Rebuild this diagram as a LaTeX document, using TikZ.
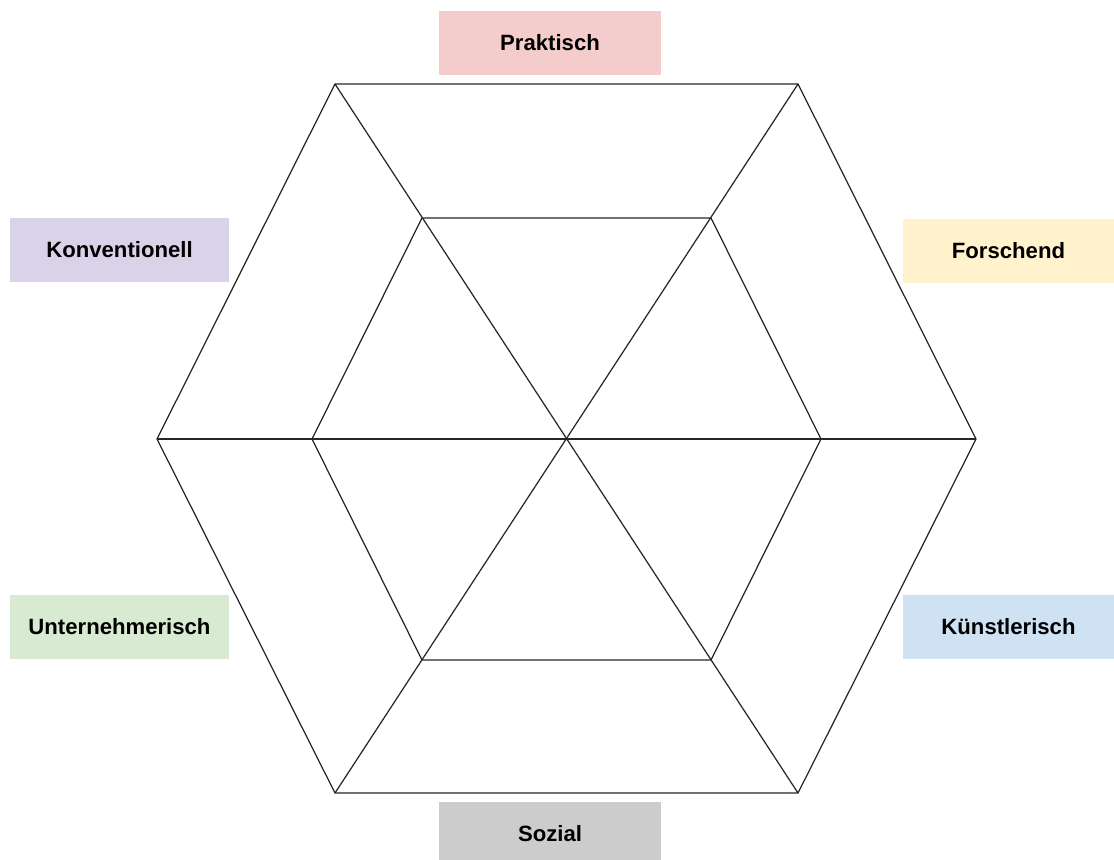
\documentclass[tikz,border=0pt]{standalone}
\usepackage{fontspec}
\setmainfont{Liberation Sans}
\definecolor{praktischred}{HTML}{F4CCCC}
\definecolor{forschendyellow}{HTML}{FFF2CC}
\definecolor{kuenstlerblue}{HTML}{CFE2F3}
\definecolor{sozialgray}{HTML}{CCCCCC}
\definecolor{unternehmergreen}{HTML}{D9EAD3}
\definecolor{konventionellviolet}{HTML}{D9D2E9}

\begin{document}
\begin{tikzpicture}[x=0.02cm,y=-0.02cm,hex line/.style={draw=black!85,line width=0.7pt,line join=miter},type box/.style={inner sep=0pt,minimum height=1.28cm,font=\fontsize{12.6}{15}\selectfont\bfseries}]
\clip (0,0) rectangle (1114,859);

\coordinate (center) at (566.5,439);

\coordinate (outerleft) at (157,439);
\coordinate (outertopleft) at (335,84);
\coordinate (outertopright) at (798,84);
\coordinate (outerright) at (976,439);
\coordinate (outerbottomright) at (798,793);
\coordinate (outerbottomleft) at (335,793);

\coordinate (innerleft) at (312,439);
\coordinate (innertopleft) at (422,218);
\coordinate (innertopright) at (711,218);
\coordinate (innerright) at (821,439);
\coordinate (innerbottomright) at (711,660);
\coordinate (innerbottomleft) at (422,660);

\draw[hex line] (outerleft) -- (outertopleft) -- (outertopright) -- (outerright) -- (outerbottomright) -- (outerbottomleft) -- cycle;
\draw[hex line] (innerleft) -- (innertopleft) -- (innertopright) -- (innerright) -- (innerbottomright) -- (innerbottomleft) -- cycle;
\draw[hex line] (outerleft) -- (outerright);
\draw[hex line] (outertopleft) -- (outerbottomright);
\draw[hex line] (outertopright) -- (outerbottomleft);

% Types
\node[type box, fill=praktischred, minimum width=4.44cm] (praktisch) at (550,43) {Praktisch};
\node[type box, fill=forschendyellow, minimum width=4.22cm] (forschend) at (1008.5,250.5) {Forschend};
\node[type box, fill=kuenstlerblue, minimum width=4.22cm] (kuenstlerisch) at (1008.5,627) {Künstlerisch};
\node[type box, fill=sozialgray, minimum width=4.44cm] (sozial) at (550,834) {Sozial};
\node[type box, fill=unternehmergreen, minimum width=4.4cm] (unternehmerisch) at (119.5,627) {Unternehmerisch};
\node[type box, fill=konventionellviolet, minimum width=4.4cm] (konventionell) at (119.5,250) {Konventionell};

\end{tikzpicture}
\end{document}
